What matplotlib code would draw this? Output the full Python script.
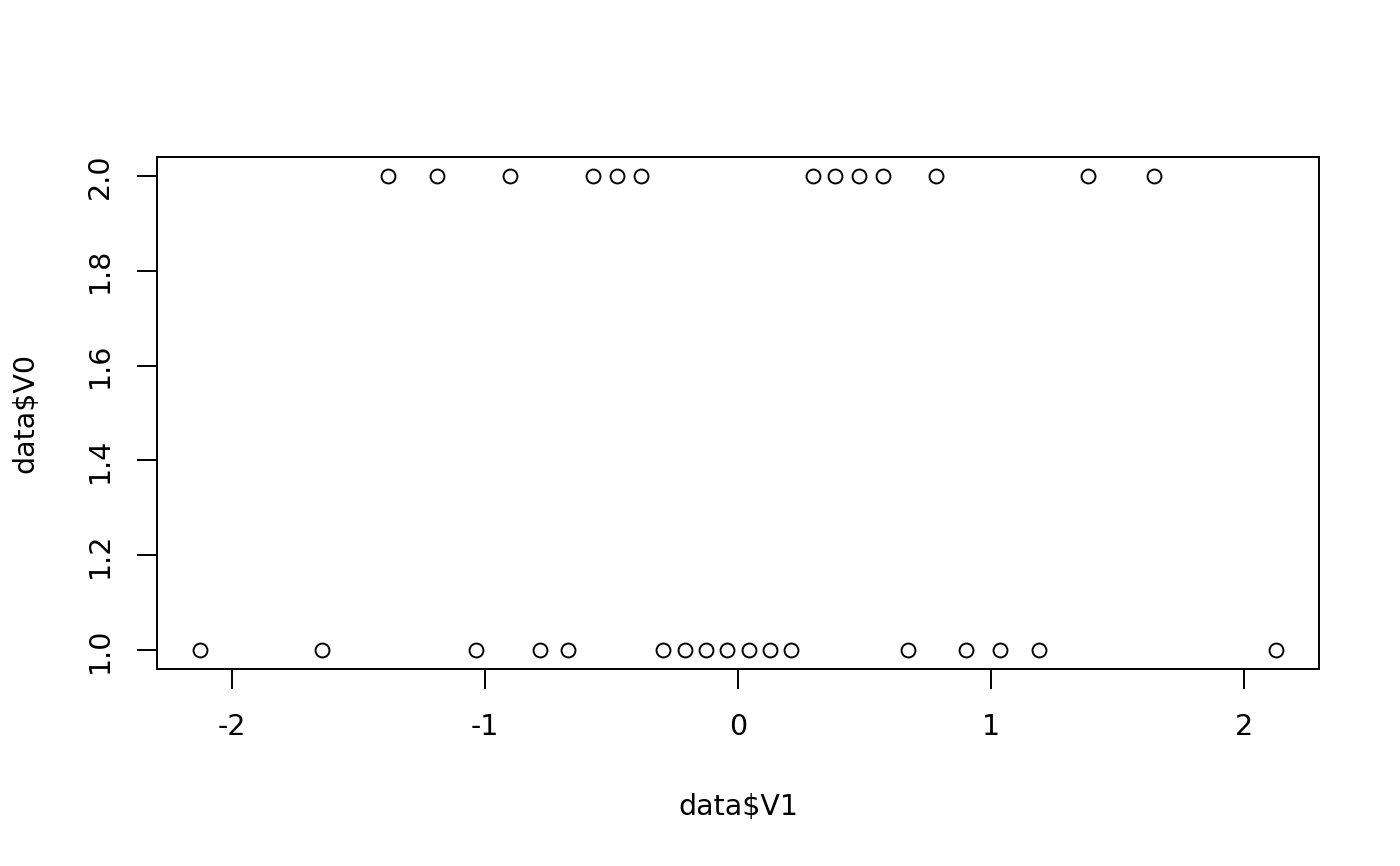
import matplotlib
matplotlib.use("Agg")
import matplotlib.pyplot as plt

v1_group2 = [-1.383, -1.192, -0.903, -0.573, -0.477, -0.385,
             0.297, 0.385, 0.477, 0.573, 0.783, 1.383, 1.645]
v1_group1 = [-2.128, -1.645, -1.036, -0.783, -0.674, -0.297, -0.210,
             -0.126, -0.042, 0.042, 0.126, 0.210, 0.674, 0.903, 1.036,
             1.192, 2.128]
v0_group2 = [2.0] * len(v1_group2)
v0_group1 = [1.0] * len(v1_group1)

x_ticks = [-2, -1, 0, 1, 2]
y_ticks = [1.0, 1.2, 1.4, 1.6, 1.8, 2.0]

plt.rcParams['font.family'] = ['DejaVu Sans']
fig = plt.figure(figsize=(14, 8.66), dpi=100)
W, H = 1400, 866
ax = fig.add_axes([157 / W, 1 - 669 / H, (1319 - 157) / W, (669 - 157) / H])

xs = v1_group2 + v1_group1
ys = v0_group2 + v0_group1
ax.plot(xs, ys, linestyle='none', marker='o', markersize=10,
        markerfacecolor='white', markeredgecolor='black', markeredgewidth=1.4)

ax.set_xlim(-2.298, 2.298)
ax.set_ylim(0.96, 2.04)
ax.set_xticks(x_ticks)
ax.set_xticklabels([str(t) for t in x_ticks])
ax.set_yticks(y_ticks)
ax.set_yticklabels([f"{t:.1f}" for t in y_ticks], rotation=90, va='center')
for s in ax.spines.values():
    s.set_linewidth(1.4)
ax.tick_params(axis='both', direction='out', length=14.4, width=1.4,
               labelsize=20.5)
ax.tick_params(axis='x', pad=17)
ax.tick_params(axis='y', pad=17)

ax.set_xlabel('data$V1', fontsize=20.5)
ax.xaxis.set_label_coords(0.5, -0.27)
ax.xaxis.label.set_va('center')
ax.set_ylabel('data$V0', fontsize=20.5)
ax.yaxis.set_label_coords(-0.1136, 0.5)
ax.yaxis.label.set_va('center')

fig.savefig('out.png', dpi=100)
